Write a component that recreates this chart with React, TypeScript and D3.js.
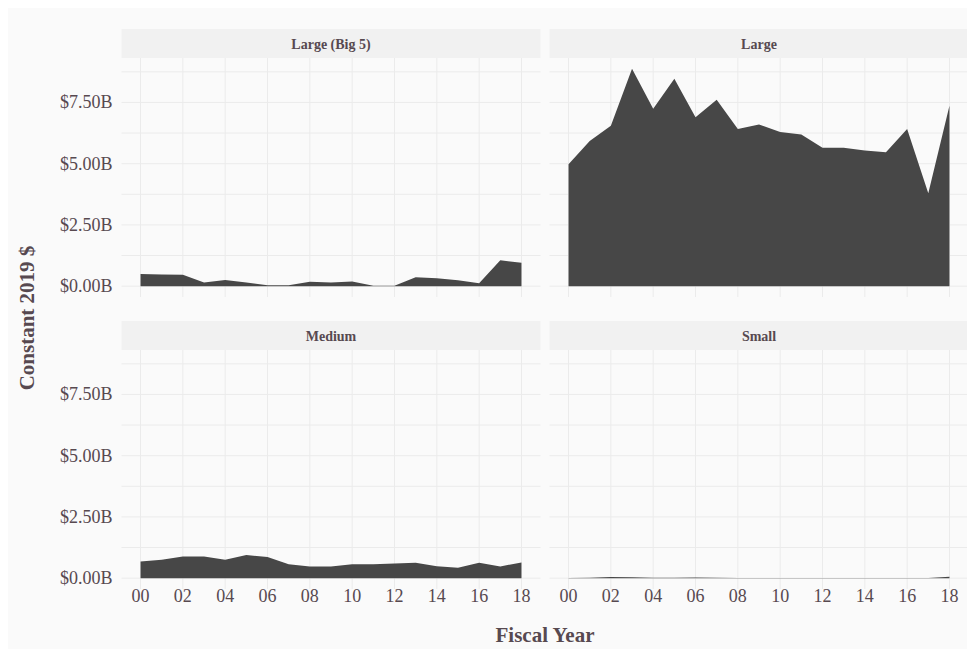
import * as d3 from "d3";

const years = [0, 1, 2, 3, 4, 5, 6, 7, 8, 9, 10, 11, 12, 13, 14, 15, 16, 17, 18];
const xTicks = [0, 2, 4, 6, 8, 10, 12, 14, 16, 18];
const yTicks = [0, 2.5, 5, 7.5];
const yMinor = [1.25, 3.75, 6.25, 8.75];

const panelNames = ["Large (Big 5)", "Large", "Medium", "Small"];

// billions of constant 2019 dollars, FY2000..FY2018
const big5 = [0.5, 0.48, 0.46, 0.15, 0.25, 0.15, 0.04, 0.04, 0.18, 0.15, 0.19, 0.02, 0.02, 0.36, 0.32, 0.24, 0.12, 1.06, 0.95];
const large = [4.98, 5.93, 6.55, 8.87, 7.24, 8.47, 6.89, 7.61, 6.41, 6.6, 6.29, 6.19, 5.65, 5.65, 5.54, 5.47, 6.41, 3.79, 7.36];
const medium = [0.68, 0.75, 0.88, 0.88, 0.75, 0.94, 0.86, 0.57, 0.47, 0.47, 0.57, 0.57, 0.6, 0.63, 0.49, 0.42, 0.63, 0.48, 0.64];
const small = [0.01, 0.02, 0.05, 0.04, 0.02, 0.02, 0.03, 0.02, 0.005, 0.005, 0.005, 0.005, 0.005, 0.005, 0.005, 0.01, 0.01, 0.01, 0.06];

const seriesList = [big5, large, medium, small];

const W = 967;
const H = 649;
const textColor = "#574950";
const gridColor = "#ebebeb";
const font = "'Liberation Serif', 'Times New Roman', serif";

const cols = [
  { x0: 121.5, x1: 540.5 },
  { x0: 549.5, x1: 968.5 },
];
const rows = [
  { strip: 29, y0: 58, y1: 297 },
  { strip: 321, y0: 350, y1: 589 },
];

const yMax = d3.max(seriesList.flat()) as number;
const yDomain: [number, number] = [-0.05 * yMax, yMax * 1.05];
const fmtYear = d3.format("02d");
const fmtMoney = (d: number) => `$${d.toFixed(2)}B`;

function Panel({ idx }: { idx: number }) {
  const col = cols[idx % 2];
  const row = rows[Math.floor(idx / 2)];
  const values = seriesList[idx];
  const x = d3.scaleLinear().domain([-0.9, 18.9]).range([col.x0, col.x1]);
  const y = d3.scaleLinear().domain(yDomain).range([row.y1, row.y0]);
  const area = d3
    .area<number>()
    .x((_, i) => x(years[i]))
    .y0(y(0))
    .y1((d) => y(d));
  const showY = idx % 2 === 0;
  const showX = idx >= 2;

  return (
    <g>
      <rect x={col.x0} y={row.strip} width={col.x1 - col.x0} height={row.y0 - row.strip} fill="#f1f1f1" />
      <text
        x={(col.x0 + col.x1) / 2}
        y={(row.strip + row.y0) / 2 + 5}
        textAnchor="middle"
        fontFamily={font}
        fontWeight="bold"
        fontSize={14}
        fill={textColor}
      >
        {panelNames[idx]}
      </text>
      {yMinor.concat(yTicks).map((t) => (
        <line key={"h" + t} x1={col.x0} x2={col.x1} y1={y(t)} y2={y(t)} stroke={gridColor} strokeWidth={1} />
      ))}
      {xTicks.map((t) => (
        <line key={"v" + t} x1={x(t)} x2={x(t)} y1={row.y0} y2={row.y1} stroke={gridColor} strokeWidth={1} />
      ))}
      <path d={area(values) || ""} fill="#474747" />
      {showY &&
        yTicks.map((t) => (
          <text
            key={"yl" + t}
            x={col.x0 - 9}
            y={y(t) + 6}
            textAnchor="end"
            fontFamily={font}
            fontSize={18}
            fill={textColor}
          >
            {fmtMoney(t)}
          </text>
        ))}
      {showX &&
        xTicks.map((t) => (
          <text
            key={"xl" + t}
            x={x(t)}
            y={602}
            textAnchor="middle"
            fontFamily={font}
            fontSize={18}
            fill={textColor}
          >
            {fmtYear(t)}
          </text>
        ))}
    </g>
  );
}

export default function App() {
  return (
    <svg
      width={W}
      height={H}
      style={{ position: "absolute", left: 0, top: 0, display: "block" }}
    >
      <rect x={0} y={0} width={W} height={H} fill="#ffffff" />
      <rect x={8} y={8} width={W - 8} height={H - 8} fill="#fafafa" />
      {panelNames.map((_, i) => (
        <Panel key={i} idx={i} />
      ))}
      <text
        x={545}
        y={642}
        textAnchor="middle"
        fontFamily={font}
        fontWeight="bold"
        fontSize={21}
        fill={textColor}
      >
        Fiscal Year
      </text>
      <text
        transform="translate(34, 318) rotate(-90)"
        textAnchor="middle"
        fontFamily={font}
        fontWeight="bold"
        fontSize={21}
        fill={textColor}
      >
        Constant 2019 $
      </text>
    </svg>
  );
}
